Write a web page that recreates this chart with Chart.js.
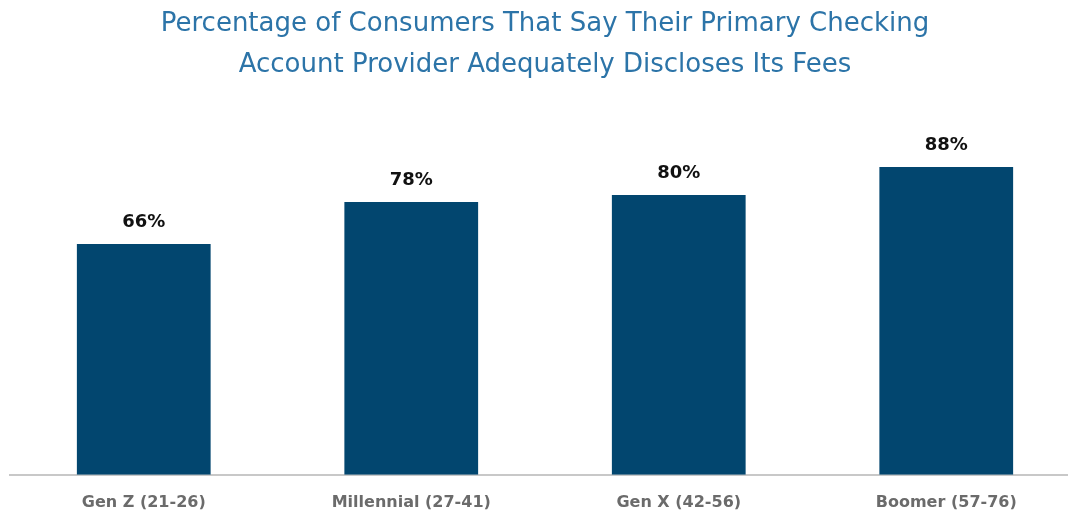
<!DOCTYPE html>
<html>
<head>
<meta charset="utf-8">
<script src="https://cdn.jsdelivr.net/npm/chart.js@4/dist/chart.umd.min.js"></script>
<style>
  html, body { margin: 0; padding: 0; background: #fff; overflow: hidden; }
  #wrap { width: 1080px; height: 530px; }
</style>
</head>
<body>
<div id="wrap"><canvas id="feesChart"></canvas></div>
<script>
const categories = ["Gen Z (21-26)", "Millennial (27-41)", "Gen X (42-56)", "Boomer (57-76)"];
const shares = [66, 78, 80, 88];
const titleLines = ["Percentage of Consumers That Say Their Primary Checking", "Account Provider Adequately Discloses Its Fees"];

// draws the "66%" style labels on top of each bar
const valueLabels = {
    id: "valueLabels",
    afterDatasetsDraw(chart) {
        const ctx = chart.ctx;
        const meta = chart.getDatasetMeta(0);
        ctx.save();
        ctx.font = "bold 18px 'DejaVu Sans', sans-serif";
        ctx.fillStyle = "#111";
        ctx.textAlign = "center";
        ctx.textBaseline = "middle";
        meta.data.forEach((bar, i) => {
            ctx.fillText(shares[i] + "%", bar.x, bar.y - 22);
        });
        ctx.restore();
    }
};

new Chart(document.getElementById("feesChart"), {
    type: "bar",
    data: {
        labels: categories,
        datasets: [{
            data: shares,
            backgroundColor: "#02466F",
            barPercentage: 0.5,
            categoryPercentage: 1.0
        }]
    },
    options: {
        responsive: true,
        maintainAspectRatio: false,
        animation: false,
        layout: { padding: { left: 10, right: 0, top: 4, bottom: 0 } },
        plugins: {
            legend: { display: false },
            tooltip: { enabled: false },
            title: {
                display: true,
                text: titleLines,
                color: "#2C74A8",
                font: { family: "'DejaVu Sans', sans-serif", size: 26, weight: "normal", lineHeight: 1.56 },
                padding: { top: 0, bottom: 40 }
            }
        },
        scales: {
            x: {
                grid: { display: false, drawTicks: false },
                border: { display: true, color: "#c8c8c8", width: 2 },
                ticks: {
                    color: "#6b6b6b",
                    padding: 18,
                    font: { family: "'DejaVu Sans', sans-serif", size: 16, weight: "bold" }
                }
            },
            y: {
                display: false,
                min: 0,
                max: 100
            }
        }
    },
    plugins: [valueLabels]
});
</script>
</body>
</html>
